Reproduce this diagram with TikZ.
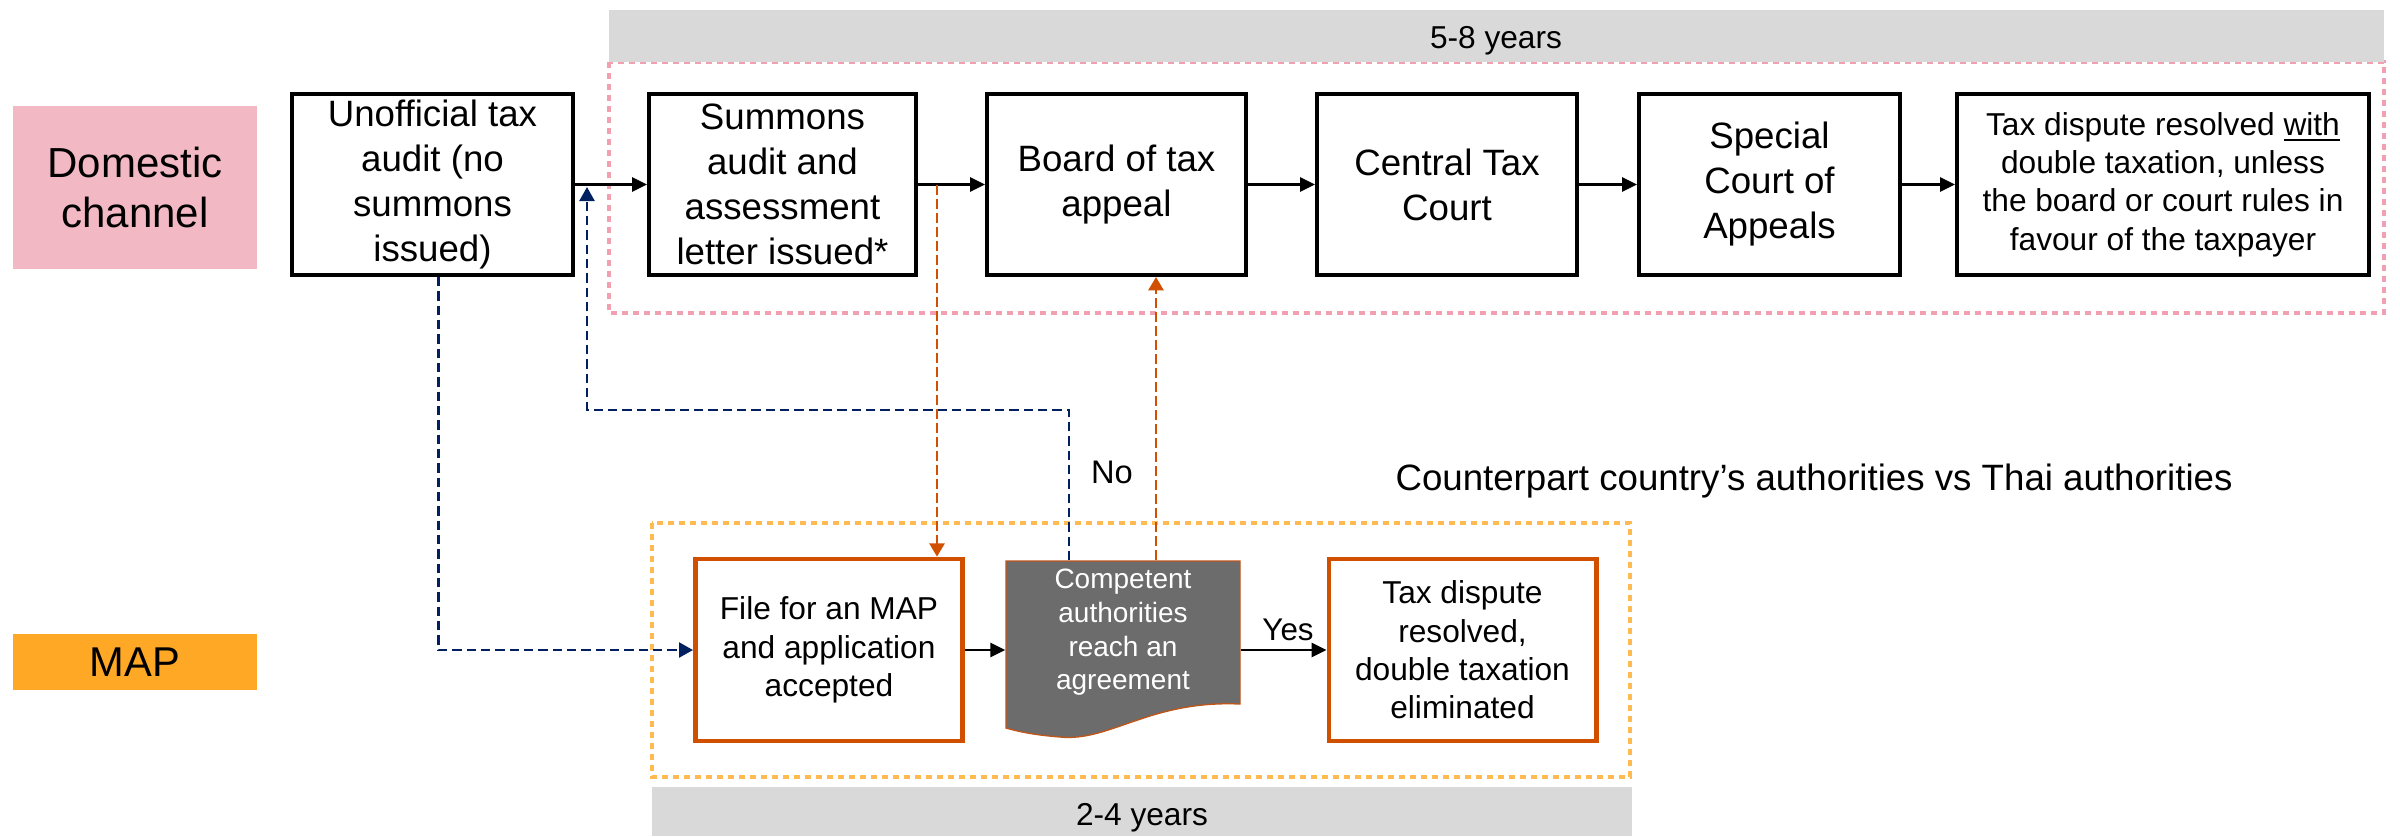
\documentclass[tikz,border=0pt]{standalone}
\usepackage{fontspec}
\setmainfont{Liberation Sans}
\usetikzlibrary{arrows.meta}
\definecolor{pinkfill}{RGB}{242,185,196}
\definecolor{pinkdot}{RGB}{240,160,176}
\definecolor{mapfill}{RGB}{255,168,38}
\definecolor{orangedot}{RGB}{255,186,82}
\definecolor{mapedge}{RGB}{208,80,0}
\definecolor{navy}{RGB}{0,32,96}
\definecolor{barfill}{RGB}{217,217,217}
\definecolor{compfill}{RGB}{108,108,108}
\definecolor{compedge}{RGB}{190,85,25}
\newcommand\myfs[2]{\fontsize{#1}{#2}\selectfont}
\begin{document}
\begin{tikzpicture}[x=0.3pt,y=-0.3pt,
  box/.style={draw=black, line width=1.2pt, fill=white, align=center, inner sep=0pt,
    minimum height=54.3pt, font=\myfs{11}{13.5}},
  obox/.style={draw=mapedge, line width=1.4pt, fill=white, align=center, inner sep=0pt,
    minimum width=80.2pt, minimum height=54.6pt, font=\myfs{9.5}{11.5}},
  label/.style={align=center, inner sep=0pt},
  flow/.style={line width=0.8pt, -{Triangle[length=4.5pt,width=4.2pt]}},
  navydash/.style={draw=navy, line width=0.7pt, dash pattern=on 2.8pt off 1.5pt},
  navytip/.style={-{Triangle[length=4.2pt,width=4.5pt,fill=navy]}},
  orangedash/.style={draw=mapedge, line width=0.8pt, dash pattern=on 3pt off 1.2pt,
    -{Triangle[length=4pt,width=4.5pt,fill=mapedge]}},
  dotframe/.style={line width=1.35pt, dash pattern=on 1.7pt off 1.6pt}
]
\useasboundingbox (0,0) rectangle (2400,836);

% frames and bars
\draw[dotframe, draw=pinkdot] (609,62) rectangle (2384,313);
\draw[dotframe, draw=orangedot] (652,523) rectangle (1630,777);
\fill[barfill] (609,10) rectangle (2384,62);
\fill[barfill] (652,787) rectangle (1632,836);
\node[label, anchor=base, font=\myfs{9.5}{11.5}] (bartop) at (1496,48) {5-8 years};
\node[label, anchor=base, font=\myfs{9.5}{11.5}] (barbot) at (1142,825) {2-4 years};

% channel labels
\node[label, fill=pinkfill, minimum width=73.2pt, minimum height=48.9pt, font=\myfs{12.6}{15}]
  (dom) at (135,187.5) {Domestic\\channel};
\node[label, fill=mapfill, minimum width=73.2pt, minimum height=16.8pt, font=\myfs{12.5}{15}]
  (map) at (135,662) {MAP};

% top row
\node[box, minimum width=84.3pt] (unoff) at (432.5,184.5) {Unofficial tax\\audit (no\\summons\\issued)};
\node[box, minimum width=80.1pt] (summ) at (782.5,184.5) {Summons\\audit and\\assessment\\letter issued*};
\node[box, minimum width=77.7pt] (board) at (1116.5,184.5) {Board of tax\\appeal};
\node[box, minimum width=78pt] (central) at (1447,184.5) {Central Tax\\Court};
\node[box, minimum width=78.3pt] (special) at (1769.5,184.5) {Special\\Court of\\Appeals};
\node[box, minimum width=123.6pt, font=\myfs{9.5}{11.5}] (taxres) at (2163,184.5)
  {Tax dispute resolved \underline{with}\\double taxation, unless\\the board or court rules in\\favour of the taxpayer};

% bottom row
\node[obox] (file) at (829,650) {File for an MAP\\and application\\accepted};
\draw[fill=compfill, draw=compedge, line width=0.4pt]
  (1006,561) -- (1240,561) -- (1240,704)
  .. controls (1150,700) and (1110,742) .. (1060,737)
  .. controls (1035,735) and (1020,732) .. (1006,728) -- cycle;
\node[label, text=white, minimum width=70.2pt, minimum height=42.9pt, font=\myfs{8.4}{10.1}]
  (comp) at (1123,632.5) {Competent\\authorities\\reach an\\agreement};
\node[obox] (result) at (1462.5,650) {Tax dispute\\resolved,\\double taxation\\eliminated};

% helper coordinates
\coordinate (ret) at (587,187);
\coordinate (nocorner) at (587,410);
\coordinate (nox) at (1069,0);
\coordinate (odown) at (937,185);
\coordinate (oup) at (1156,0);

% black flow arrows
\draw[flow] (unoff) -- (summ);
\draw[flow] (summ) -- (board);
\draw[flow] (board) -- (central);
\draw[flow] (central) -- (special);
\draw[flow] (special) -- (taxres);
\draw[flow] (file.east) -- (file.east -| comp.west);
\draw[flow] (comp.east |- result.west) -- (result.west);

% dashed connectors
\draw[navydash, navytip] ([xshift=1.8pt]unoff.south) |- (file.west);
\draw[navydash, navytip] (nox |- comp.north) |- (nocorner) -- (ret);
\draw[orangedash] (odown) -- (odown |- file.north);
\draw[orangedash] (oup |- comp.north) -- (oup |- board.south);

% text labels
\node[label, anchor=base, font=\myfs{9.8}{12}] (no) at (1112,483) {No};
\node[label, anchor=base, font=\myfs{9.4}{12}] (yes) at (1288,640) {Yes};
\node[label, anchor=base, font=\myfs{11}{13}] (cp) at (1814,490) {Counterpart country’s authorities vs Thai authorities};
\end{tikzpicture}
\end{document}
